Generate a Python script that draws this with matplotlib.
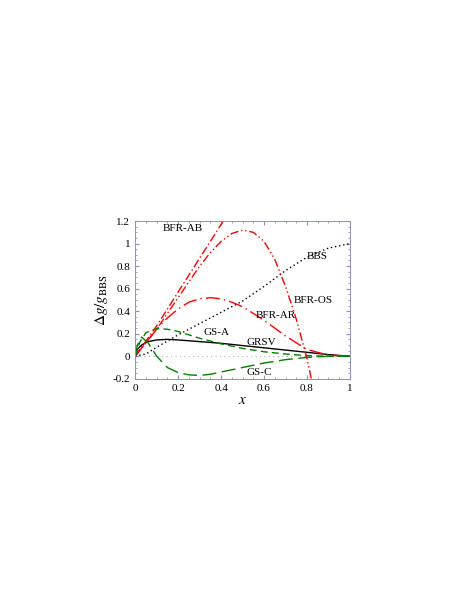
import numpy as np
import matplotlib.pyplot as plt

plt.rcParams['font.family'] = ['Liberation Serif', 'DejaVu Serif']
plt.rcParams['mathtext.fontset'] = 'stix'

# curves
x_bbs = [0, 0.05, 0.1, 0.2, 0.3, 0.4, 0.5, 0.6, 0.7, 0.8, 0.9, 1.0]
y_bbs = [0, 0.02, 0.08, 0.19, 0.29, 0.39, 0.49, 0.62, 0.76, 0.88, 0.96, 1.0]

x_grsv = [0, 0.01, 0.03, 0.06, 0.1, 0.15, 0.2, 0.3, 0.4, 0.5, 0.6, 0.7, 0.8, 0.9, 1.0]
y_grsv = [0, 0.06, 0.10, 0.13, 0.145, 0.15, 0.145, 0.13, 0.115, 0.095, 0.075, 0.055, 0.035, 0.015, 0]

x_ab = [0, 0.1, 0.2, 0.3, 0.41]
y_ab = [0, 0.27, 0.57, 0.87, 1.2]

x_os = [0, 0.1, 0.2, 0.3, 0.35, 0.4, 0.45, 0.5, 0.55, 0.6, 0.65, 0.7, 0.75, 0.8, 0.82]
y_os = [0, 0.24, 0.52, 0.80, 0.92, 1.02, 1.09, 1.12, 1.1, 1.02, 0.86, 0.62, 0.33, -0.02, -0.2]

x_ar = [0, 0.05, 0.1, 0.15, 0.2, 0.25, 0.3, 0.35, 0.4, 0.45, 0.5, 0.6, 0.7, 0.8, 0.9, 1.0]
y_ar = [0, 0.12, 0.24, 0.34, 0.42, 0.48, 0.51, 0.52, 0.51, 0.48, 0.44, 0.32, 0.18, 0.06, 0.01, 0]

x_gsa = [0, 0.02, 0.05, 0.1, 0.15, 0.2, 0.3, 0.4, 0.5, 0.6, 0.7, 0.8, 0.9, 1.0]
y_gsa = [0, 0.12, 0.21, 0.245, 0.24, 0.22, 0.16, 0.11, 0.07, 0.04, 0.02, 0.005, 0, 0]

x_gsc = [0, 0.01, 0.03, 0.06, 0.1, 0.15, 0.2, 0.25, 0.3, 0.35, 0.4, 0.5, 0.6, 0.7, 0.8, 0.9, 1.0]
y_gsc = [0, 0.1, 0.17, 0.12, 0.0, -0.1, -0.145, -0.165, -0.17, -0.16, -0.14, -0.1, -0.06, -0.03, -0.01, 0, 0]

fig = plt.figure(figsize=(4.71, 6.09), dpi=100)
ax = fig.add_axes([0.287, 0.378, 0.456, 0.259])

ax.axhline(0, color='#b0b0d0', lw=0.8, ls=(0, (1, 3)))
ax.plot(x_bbs, y_bbs, color='black', lw=1.0, ls=(0, (1, 2)))
ax.plot(x_grsv, y_grsv, color='black', lw=1.0)
ax.plot(x_ab, y_ab, color='red', lw=1.0, ls=(0, (6, 2, 1, 2)))
ax.plot(x_os, y_os, color='red', lw=1.0, ls=(0, (6, 2, 1, 2, 1, 2)))
ax.plot(x_ar, y_ar, color='red', lw=1.0, ls=(0, (10, 3, 1, 3)))
ax.plot(x_gsa, y_gsa, color='green', lw=1.0, ls=(0, (5, 3)))
ax.plot(x_gsc, y_gsc, color='green', lw=1.0, ls=(0, (10, 4)))

labels = [(0.13, 1.11, 'BFR-AB'), (0.8, 0.86, 'BBS'), (0.74, 0.47, 'BFR-OS'),
          (0.56, 0.34, 'BFR-AR'), (0.32, 0.19, 'GS-A'), (0.52, 0.1, 'GRSV'),
          (0.52, -0.17, 'GS-C')]
for lx, ly, t in labels:
    ax.text(lx, ly, t, fontsize=8)

ax.set_xlim(0, 1)
ax.set_ylim(-0.2, 1.2)
ax.set_xticks([0, 0.2, 0.4, 0.6, 0.8, 1])
ax.set_xticklabels(['0', '0.2', '0.4', '0.6', '0.8', '1'])
ax.set_yticks([-0.2, 0, 0.2, 0.4, 0.6, 0.8, 1, 1.2])
ax.set_yticklabels(['-0.2', '0', '0.2', '0.4', '0.6', '0.8', '1', '1.2'])
ax.tick_params(direction='in', labelsize=8, color='#9090c0', length=3, top=True, right=True)
ax.minorticks_on()
ax.tick_params(which='minor', direction='in', length=1.5, color='#9090c0', top=True, right=True)
for s in ax.spines.values():
    s.set_color('#9090c0')
    s.set_linewidth(0.7)
ax.set_xlabel('$x$', fontsize=11, labelpad=1)
ax.set_ylabel(r'$\Delta g/g_{\rm BBS}$', fontsize=11, labelpad=2)

fig.savefig('out.png', dpi=100)
